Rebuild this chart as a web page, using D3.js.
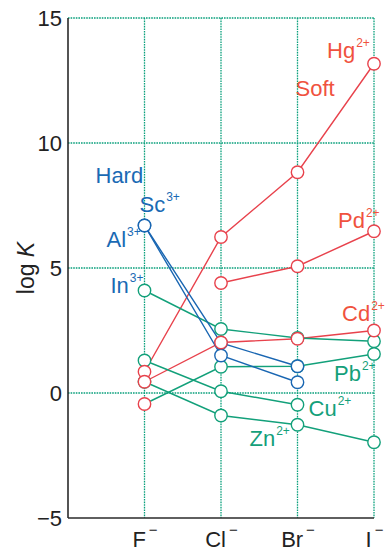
<!DOCTYPE html>
<html><head><meta charset="utf-8">
<script src="https://cdn.jsdelivr.net/npm/d3@7/dist/d3.min.js"></script>
<style>
html,body{margin:0;padding:0;background:#fff;}
svg{display:block;font-family:"Liberation Sans",Arial,Helvetica,sans-serif;}
</style></head>
<body><svg id="c" width="387" height="552"></svg>
<script>
// ---- data ----
const categories = ["F", "Cl", "Br", "I"];
const yTicks = [-5, 0, 5, 10, 15];
const yTickLabels = ["\u22125", "0", "5", "10", "15"];
// values per anion (null = not measured)
const Hg = [0.85, 6.24, 8.83, 13.17];
const Pd = [null, 4.4, 5.07, 6.47];
const Cd = [0.45, 2.02, 2.17, 2.5];
const In = [4.1, 2.56, 2.2, 2.07];
const Pb = [-0.44, 1.05, 1.07, 1.56];
const Cu = [1.3, 0.07, -0.47, null];
const Zn = [0.45, -0.9, -1.27, -1.97];
const Sc = [6.7, 2.0, 1.07, null];
const Al = [6.7, 1.5, 0.43, null];
const seriesNames = ["Hg", "Pd", "Cd", "In", "Pb", "Cu", "Zn", "Sc", "Al"];
const seriesValues = [Hg, Pd, Cd, In, Pb, Cu, Zn, Sc, Al];
const seriesGroup = ["soft", "soft", "soft", "mid", "mid", "mid", "mid", "hard", "hard"];

// ---- styles ----
const RED = "#e8424c", GREEN = "#12a07a", BLUE = "#1966b2";
const RED_T = "#f0523e", GREEN_T = "#14a07a", BLUE_T = "#1a6ab4";
const groupColor = {soft: RED, mid: GREEN, hard: BLUE};
const svg = d3.select("#c");
const L = 68, R = 374, T = 18, B = 518;
const x = d3.scalePoint().domain(categories).range([144.5, R]);
const y = d3.scaleLinear().domain([-5, 15]).range([B, T]);

// grid
const grid = svg.append("g").attr("stroke", "#0aa07c").attr("stroke-width", 1.3)
  .attr("stroke-dasharray", "1.6,1");
grid.selectAll("line.h").data(yTicks.filter(d => d > -5)).join("line")
  .attr("x1", L).attr("x2", R).attr("y1", d => y(d)).attr("y2", d => y(d));
grid.selectAll("line.v").data(categories).join("line")
  .attr("x1", d => x(d)).attr("x2", d => x(d)).attr("y1", T).attr("y2", B);

// axes
const yAxis = d3.axisLeft(y).tickValues(yTicks).tickSize(0).tickPadding(6)
  .tickFormat((d, i) => yTickLabels[i]);
const gy = svg.append("g").attr("transform", `translate(${L},0)`).call(yAxis);
gy.select(".domain").remove();
gy.selectAll("text").attr("font-size", 22).attr("fill", "#222")
  .attr("font-family", "Liberation Sans, Arial, sans-serif");
const xAxis = d3.axisBottom(x).tickSize(0).tickPadding(0).tickFormat(() => "");
const gx = svg.append("g").attr("transform", `translate(0,${B})`).call(xAxis);
gx.select(".domain").remove();
gx.selectAll(".tick").each(function(d) {
  const t = d3.select(this).append("text").attr("y", 29).attr("fill", "#222")
    .attr("font-size", 22).attr("text-anchor", "middle")
    .attr("font-family", "Liberation Sans, Arial, sans-serif");
  t.append("tspan").text(d);
  t.append("tspan").attr("dx", 3).attr("dy", -12).attr("font-size", 15).text("\u2212");
});
svg.append("line").attr("x1", L).attr("x2", L).attr("y1", T).attr("y2", B)
  .attr("stroke", "#2a2a2a").attr("stroke-width", 1.6);
svg.append("line").attr("x1", L).attr("x2", R).attr("y1", B).attr("y2", B)
  .attr("stroke", "#2a2a2a").attr("stroke-width", 1.6);

// y title
svg.append("text").attr("transform", "translate(34,268) rotate(-90)")
  .attr("text-anchor", "middle").attr("font-size", 23).attr("fill", "#222")
  .html('log <tspan font-style="italic">K</tspan>');

// lines
const series = seriesNames.map((n, i) => ({name: n, vals: seriesValues[i], color: groupColor[seriesGroup[i]]}));
const line = d3.line().defined(d => d.v != null).x(d => x(d.c)).y(d => y(d.v));
const pts = s => s.vals.map((v, j) => ({c: categories[j], v, name: s.name}));
svg.append("g").selectAll("path").data(series).join("path")
  .attr("d", s => line(pts(s))).attr("fill", "none")
  .attr("stroke", s => s.color).attr("stroke-width", 1.4);

// circles (green first, blue, then red on top)
const order = ["mid", "hard", "soft"];
const markerOverride = {"Pb|F": RED};
order.forEach(g => {
  series.filter((s, i) => seriesGroup[seriesNames.indexOf(s.name)] === g).forEach(s => {
    svg.append("g").selectAll("circle").data(pts(s).filter(d => d.v != null)).join("circle")
      .attr("cx", d => x(d.c)).attr("cy", d => y(d.v)).attr("r", 6.2)
      .attr("fill", "#fff").attr("stroke-width", 1.4)
      .attr("stroke", d => markerOverride[d.name + "|" + d.c] || s.color);
  });
});

// annotations
function label(tx, ty, main, sup, color) {
  const t = svg.append("text").attr("x", tx).attr("y", ty).attr("fill", color).attr("font-size", 22);
  t.append("tspan").text(main);
  if (sup) t.append("tspan").attr("dx", 1).attr("dy", -11).attr("font-size", 12).text(sup);
}
label(x("F") - 49, y(8.4), "Hard", null, BLUE_T);
label(x("F") - 5, y(7.25), "Sc", "3+", BLUE_T);
label(x("F") - 38, y(5.85), "Al", "3+", BLUE_T);
label(x("F") - 34, y(4.0), "In", "3+", BLUE_T);
label(x("I") - 47, y(13.4), "Hg", "2+", RED_T);
label(x("Br") - 2, y(11.87), "Soft", null, RED_T);
label(x("I") - 36, y(6.6), "Pd", "2+", RED_T);
label(x("I") - 32, y(2.87), "Cd", "2+", RED_T);
label(x("I") - 40, y(0.47), "Pb", "2+", GREEN_T);
label(x("Br") + 11, y(-0.93), "Cu", "2+", GREEN_T);
label(x("Br") - 48, y(-2.13), "Zn", "2+", GREEN_T);
</script></body></html>
